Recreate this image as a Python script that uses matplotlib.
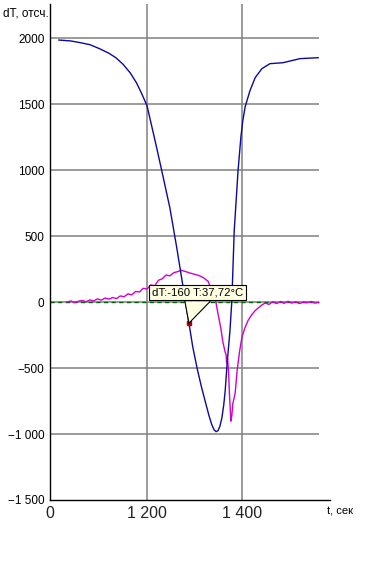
import matplotlib

matplotlib.use("Agg")
import matplotlib.pyplot as plt
import matplotlib.transforms as mtransforms
from matplotlib.patches import Polygon

plt.rcParams["font.family"] = ["Liberation Sans", "DejaVu Sans"]
plt.rcParams["font.size"] = 9

# ============================================================
# Dados
# ============================================================
t_blue = [1015, 1040, 1060, 1080, 1100, 1120, 1135, 1150, 1165, 1178, 1190,
          1200, 1217, 1231, 1248, 1262, 1275, 1288, 1296, 1305, 1314, 1322,
          1330, 1336, 1341, 1345, 1349, 1353, 1357, 1361, 1364, 1368, 1374,
          1378, 1383, 1391, 1397, 1401, 1406, 1416, 1427, 1441, 1458, 1485,
          1521, 1559]
dT_blue = [1985, 1978, 1965, 1950, 1920, 1885, 1850, 1800, 1735, 1660, 1570,
           1487, 1221, 994, 713, 420, 130, -160, -340, -500, -640, -751,
           -860, -930, -970, -982, -975, -940, -880, -780, -675, -470, -220,
           8, 539, 994, 1250, 1373, 1480, 1601, 1700, 1768, 1806, 1813,
           1844, 1851]

t_mag = [1032, 1040, 1048, 1056, 1064, 1072, 1080, 1088, 1096, 1104, 1112,
         1120, 1128, 1136, 1144, 1152, 1160, 1168, 1176, 1184, 1192, 1200,
         1208, 1216, 1224, 1232, 1240, 1248, 1256, 1264, 1272, 1280, 1288,
         1296, 1304, 1312, 1320, 1328, 1336, 1343, 1349, 1355, 1359, 1364,
         1366, 1367, 1369, 1371, 1373, 1376, 1378, 1380, 1385, 1389, 1394,
         1399, 1405, 1412, 1420, 1427, 1435, 1441, 1448, 1456, 1464, 1472,
         1480, 1488, 1496, 1504, 1512, 1520, 1528, 1536, 1544, 1552, 1559]
dT_mag = [0, 8, -4, 6, 12, 2, 16, 8, 24, 14, 30,
          22, 34, 26, 46, 40, 62, 54, 80, 76, 104, 98,
          130, 122, 165, 176, 205, 198, 222, 230, 240, 232, 222,
          214, 206, 196, 180, 158, 90, 30, -90, -200, -300, -380,
          -400, -460, -430, -520, -700, -903, -860, -770, -690, -523, -380,
          -270, -200, -140, -95, -65, -40, -22, -8, -18, 2, -12,
          4, -10, 6, -8, 2, -12, 0, -6, 4, -8, -5]

marker_t = 1288
marker_dT = -160
marker_label = "dT:-160 T:37,72°C"

y_ticks = [-1500, -1000, -500, 0, 500, 1000, 1500, 2000]
y_labels = ["\u22121 500", "\u22121 000", "\u2212500", "0", "500", "1000", "1500", "2000"]
x_ticks = [996.4, 1200, 1400]
x_labels = ["0", "1 200", "1 400"]
grid_y = [-1000, -500, 0, 500, 1000, 1500, 2000]
grid_x = [1200, 1400]

# ============================================================
# Figura
# ============================================================
fig = plt.figure(figsize=(3.67, 5.79), dpi=100)
ax = fig.add_axes([50 / 367, 79 / 579, 280 / 367, 496 / 579])
ax.set_xlim(996.4, 1584)
ax.set_ylim(-1500, 2258)

ax.hlines(grid_y, 996.4, 1561, color="#808080", linewidth=1.1, zorder=1)
for gx in grid_x:
    ax.axvline(gx, color="#808080", linewidth=1.1, zorder=1)
ax.hlines(0, 996.4, 1561, color="#006400", linewidth=1.0,
          linestyles=(0, (3, 2.5)), zorder=2)

ax.plot(t_blue, dT_blue, color="#0a0aa0", linewidth=1.0, zorder=4)
ax.plot(t_mag, dT_mag, color="#d000d0", linewidth=1.0, zorder=3)

# marcador + balao
ax.plot([marker_t], [marker_dT], marker="s", markersize=3.5,
        color="#b00000", zorder=7)
ax.annotate(marker_label, xy=(marker_t, marker_dT), xytext=(6, 22),
            textcoords="offset points", ha="center", va="center",
            fontsize=8.2, zorder=8,
            bbox=dict(boxstyle="square,pad=0.25", facecolor="#ffffe1",
                      edgecolor="black", linewidth=0.8))
tr = fig.dpi_scale_trans + mtransforms.ScaledTranslation(
    marker_t, marker_dT, ax.transData)
ax.add_patch(Polygon([(-0.04, 0.215), (0.21, 0.215), (0, 0)], closed=True,
                     facecolor="#ffffe1", edgecolor="none", transform=tr,
                     zorder=9))
ax.plot([-0.04, 0, 0.21], [0.215, 0, 0.215], color="black", linewidth=0.8,
        transform=tr, zorder=9)

ax.set_yticks(y_ticks)
ax.set_yticklabels(y_labels, fontsize=8.5)
ax.set_xticks(x_ticks)
ax.set_xticklabels(x_labels, fontsize=11.5, color="#222222")
ax.tick_params(axis="both", length=0)
ax.tick_params(axis="y", pad=4)
ax.tick_params(axis="x", pad=4)
ax.spines["top"].set_visible(False)
ax.spines["right"].set_visible(False)
ax.spines["left"].set_linewidth(1.0)
ax.spines["bottom"].set_linewidth(1.0)

fig.text(3 / 367, 1 - 13 / 579, "dT, отсч.", fontsize=8.5, va="center", ha="left")
fig.text(327 / 367, 1 - 512 / 579, "t, сек", fontsize=8, va="center", ha="left")

fig.savefig("out.png", dpi=100)
plt.close(fig)
